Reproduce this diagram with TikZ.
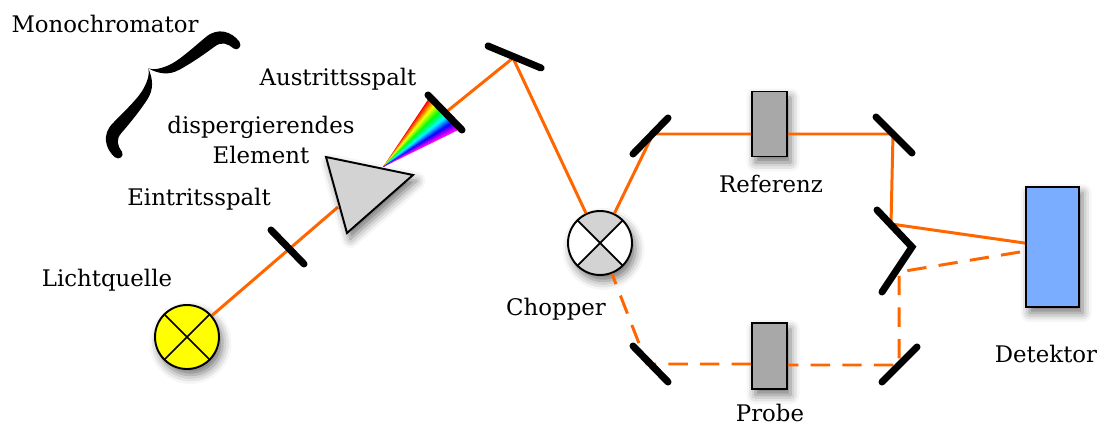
\documentclass[tikz,border=0pt]{standalone}
\usepackage{fontspec}
\setmainfont{DejaVu Serif}
\usetikzlibrary{calc,shadows.blur}

\definecolor{beamorange}{RGB}{255,102,0}
\definecolor{lampyellow}{RGB}{255,255,0}
\definecolor{lightgrey}{RGB}{211,211,211}
\definecolor{cellgrey}{RGB}{168,168,168}
\definecolor{detblue}{RGB}{122,172,255}

\tikzset{
  beam/.style={draw=beamorange, line width=1.7pt},
  dashes/.style={dash pattern=on 11pt off 7pt},
  mirror/.style={line width=4pt, line cap=round},
  softshadow/.style={blur shadow={shadow xshift=0.07cm, shadow yshift=-0.12cm,
      shadow blur radius=0.18cm, shadow opacity=55}},
  lbl/.style={font=\fontsize{13}{17.6}\selectfont, inner sep=0pt, anchor=base},
  source/.style={circle, draw, line width=1.1pt, minimum size=1.28cm,
      inner sep=0pt, softshadow},
  cross/.style={path picture={
      \draw[line width=1pt] (path picture bounding box.north west) -- (path picture bounding box.south east)
        (path picture bounding box.north east) -- (path picture bounding box.south west);}},
  cell/.style={rectangle, draw, line width=1.1pt, fill=cellgrey, minimum width=0.7cm,
      minimum height=1.3cm, inner sep=0pt, softshadow},
}

% one half of the curly brace, the other half is mirrored
\newcommand{\bracehalf}{%
  (-85,3) .. controls (-86,16) and (-79,28) .. (-64,29)
    .. controls (-45,30) and (-26,30) .. (-16,34)
    .. controls (-8,37) and (-3,40) .. (0,45)
    .. controls (-4,34) and (-10,26) .. (-22,23)
    .. controls (-38,19) and (-55,17) .. (-64,16)
    .. controls (-72,15) and (-75,10) .. (-76,2)
    .. controls (-77,-3) and (-84,-3) .. cycle}

\begin{document}
\begin{tikzpicture}[x=0.02cm, y=-0.02cm]
\useasboundingbox (0,0) rectangle (1101,425);

% light source and chopper wheel
\node[source, fill=lampyellow, cross] (lamp) at (187,337) {};
\node[source, fill=white, path picture={
    \fill[lightgrey] (path picture bounding box.center) -- (path picture bounding box.north west)
      -- (path picture bounding box.north east) -- cycle;
    \fill[lightgrey] (path picture bounding box.center) -- (path picture bounding box.south west)
      -- (path picture bounding box.south east) -- cycle;
    \draw[line width=1pt] (path picture bounding box.north west) -- (path picture bounding box.south east)
      (path picture bounding box.north east) -- (path picture bounding box.south west);}]
  (chopper) at (600,243) {};

% cells and detector
\node[cell] (ref) at (769.5,124) {};
\node[cell, minimum height=1.32cm] (probe) at (769.5,356) {};
\node[rectangle, draw, line width=1.1pt, fill=detblue, minimum width=1.06cm,
  minimum height=2.4cm, softshadow] (det) at (1052.5,247) {};

% points where the beam is turned
\coordinate (prismIn) at (338,207);
\coordinate (prismOut) at (383,167);
\coordinate (fanTop) at (429,98);
\coordinate (fanBot) at (457,130);
\coordinate (slitOut) at (445,113);
\coordinate (m1) at (513,58);
\coordinate (m2) at (653,134);
\coordinate (m3) at (893,134);
\coordinate (m4) at (891,224);
\coordinate (detOut) at (1020,252);
\coordinate (m5) at (899,272);
\coordinate (m6) at (899,365);
\coordinate (m7) at (647,364);

\draw[beam] (lamp) -- (prismIn);
\draw[beam] (slitOut) -- (m1) -- (chopper);
\draw[beam] (chopper) -- (m2) -- (m2 -| ref.west);
\draw[beam] (ref.east |- m3) -- (m3) -- (m4) -- (det);
\draw[beam, dashes] (detOut) -- (m5) -- (m6) -- (m6 -| probe.east);
\draw[beam, dashes] (probe.west |- m7) -- (m7) -- (chopper);

% prism and spectrum
\draw[line width=1.1pt, fill=lightgrey, softshadow] (326,157) -- (413,175) -- (347,233) -- cycle;
\foreach \i in {0,...,29}{
  \pgfmathsetmacro\hue{0.83*\i/29}
  \pgfmathsetmacro\ta{\i/30}
  \pgfmathsetmacro\tb{(\i+1.4)/30}
  \definecolor{band}{hsb}{\hue,1,1}
  \fill[band] (prismOut) -- ($(fanTop)!\ta!(fanBot)$) -- ($(fanTop)!\tb!(fanBot)$) -- cycle;
}

% slits and mirrors
\draw[mirror] (271,230) -- (304,264);
\draw[mirror] (428,95) -- (462,130);
\draw[mirror] (488,46) -- (541,68);
\draw[mirror] (633,154) -- (668,118);
\draw[mirror] (876,117) -- (912,153);
\draw[mirror, line join=miter] (877,210) -- (912,247) -- (882,292);
\draw[mirror] (882,382) -- (917,347);
\draw[mirror] (633,346) -- (668,382);

% brace
\begin{scope}[shift={(179,101.5)}, x={(0.01468cm,0.0136cm)}, y={(-0.0136cm,0.01468cm)}]
  \fill \bracehalf;
\end{scope}
\begin{scope}[shift={(179,101.5)}, x={(-0.01468cm,-0.0136cm)}, y={(-0.0136cm,0.01468cm)}]
  \fill \bracehalf;
\end{scope}

% labels
\node[lbl] (monoLabel) at (105,33) {Monochromator};
\node[lbl] (exitLabel) at (338,86) {Austrittsspalt};
\node[lbl, anchor=center, align=center] (prismLabel) at (261,140) {dispergierendes\\Element};
\node[lbl] (entryLabel) at (199,206) {Eintritsspalt};
\node[lbl] (lampLabel) at (107,287) {Lichtquelle};
\node[lbl] (chopLabel) at (556,316) {Chopper};
\node[lbl] (refLabel) at (771,193) {Referenz};
\node[lbl] (probeLabel) at (770,421) {Probe};
\node[lbl] (detLabel) at (1046,362) {Detektor};
\end{tikzpicture}
\end{document}
